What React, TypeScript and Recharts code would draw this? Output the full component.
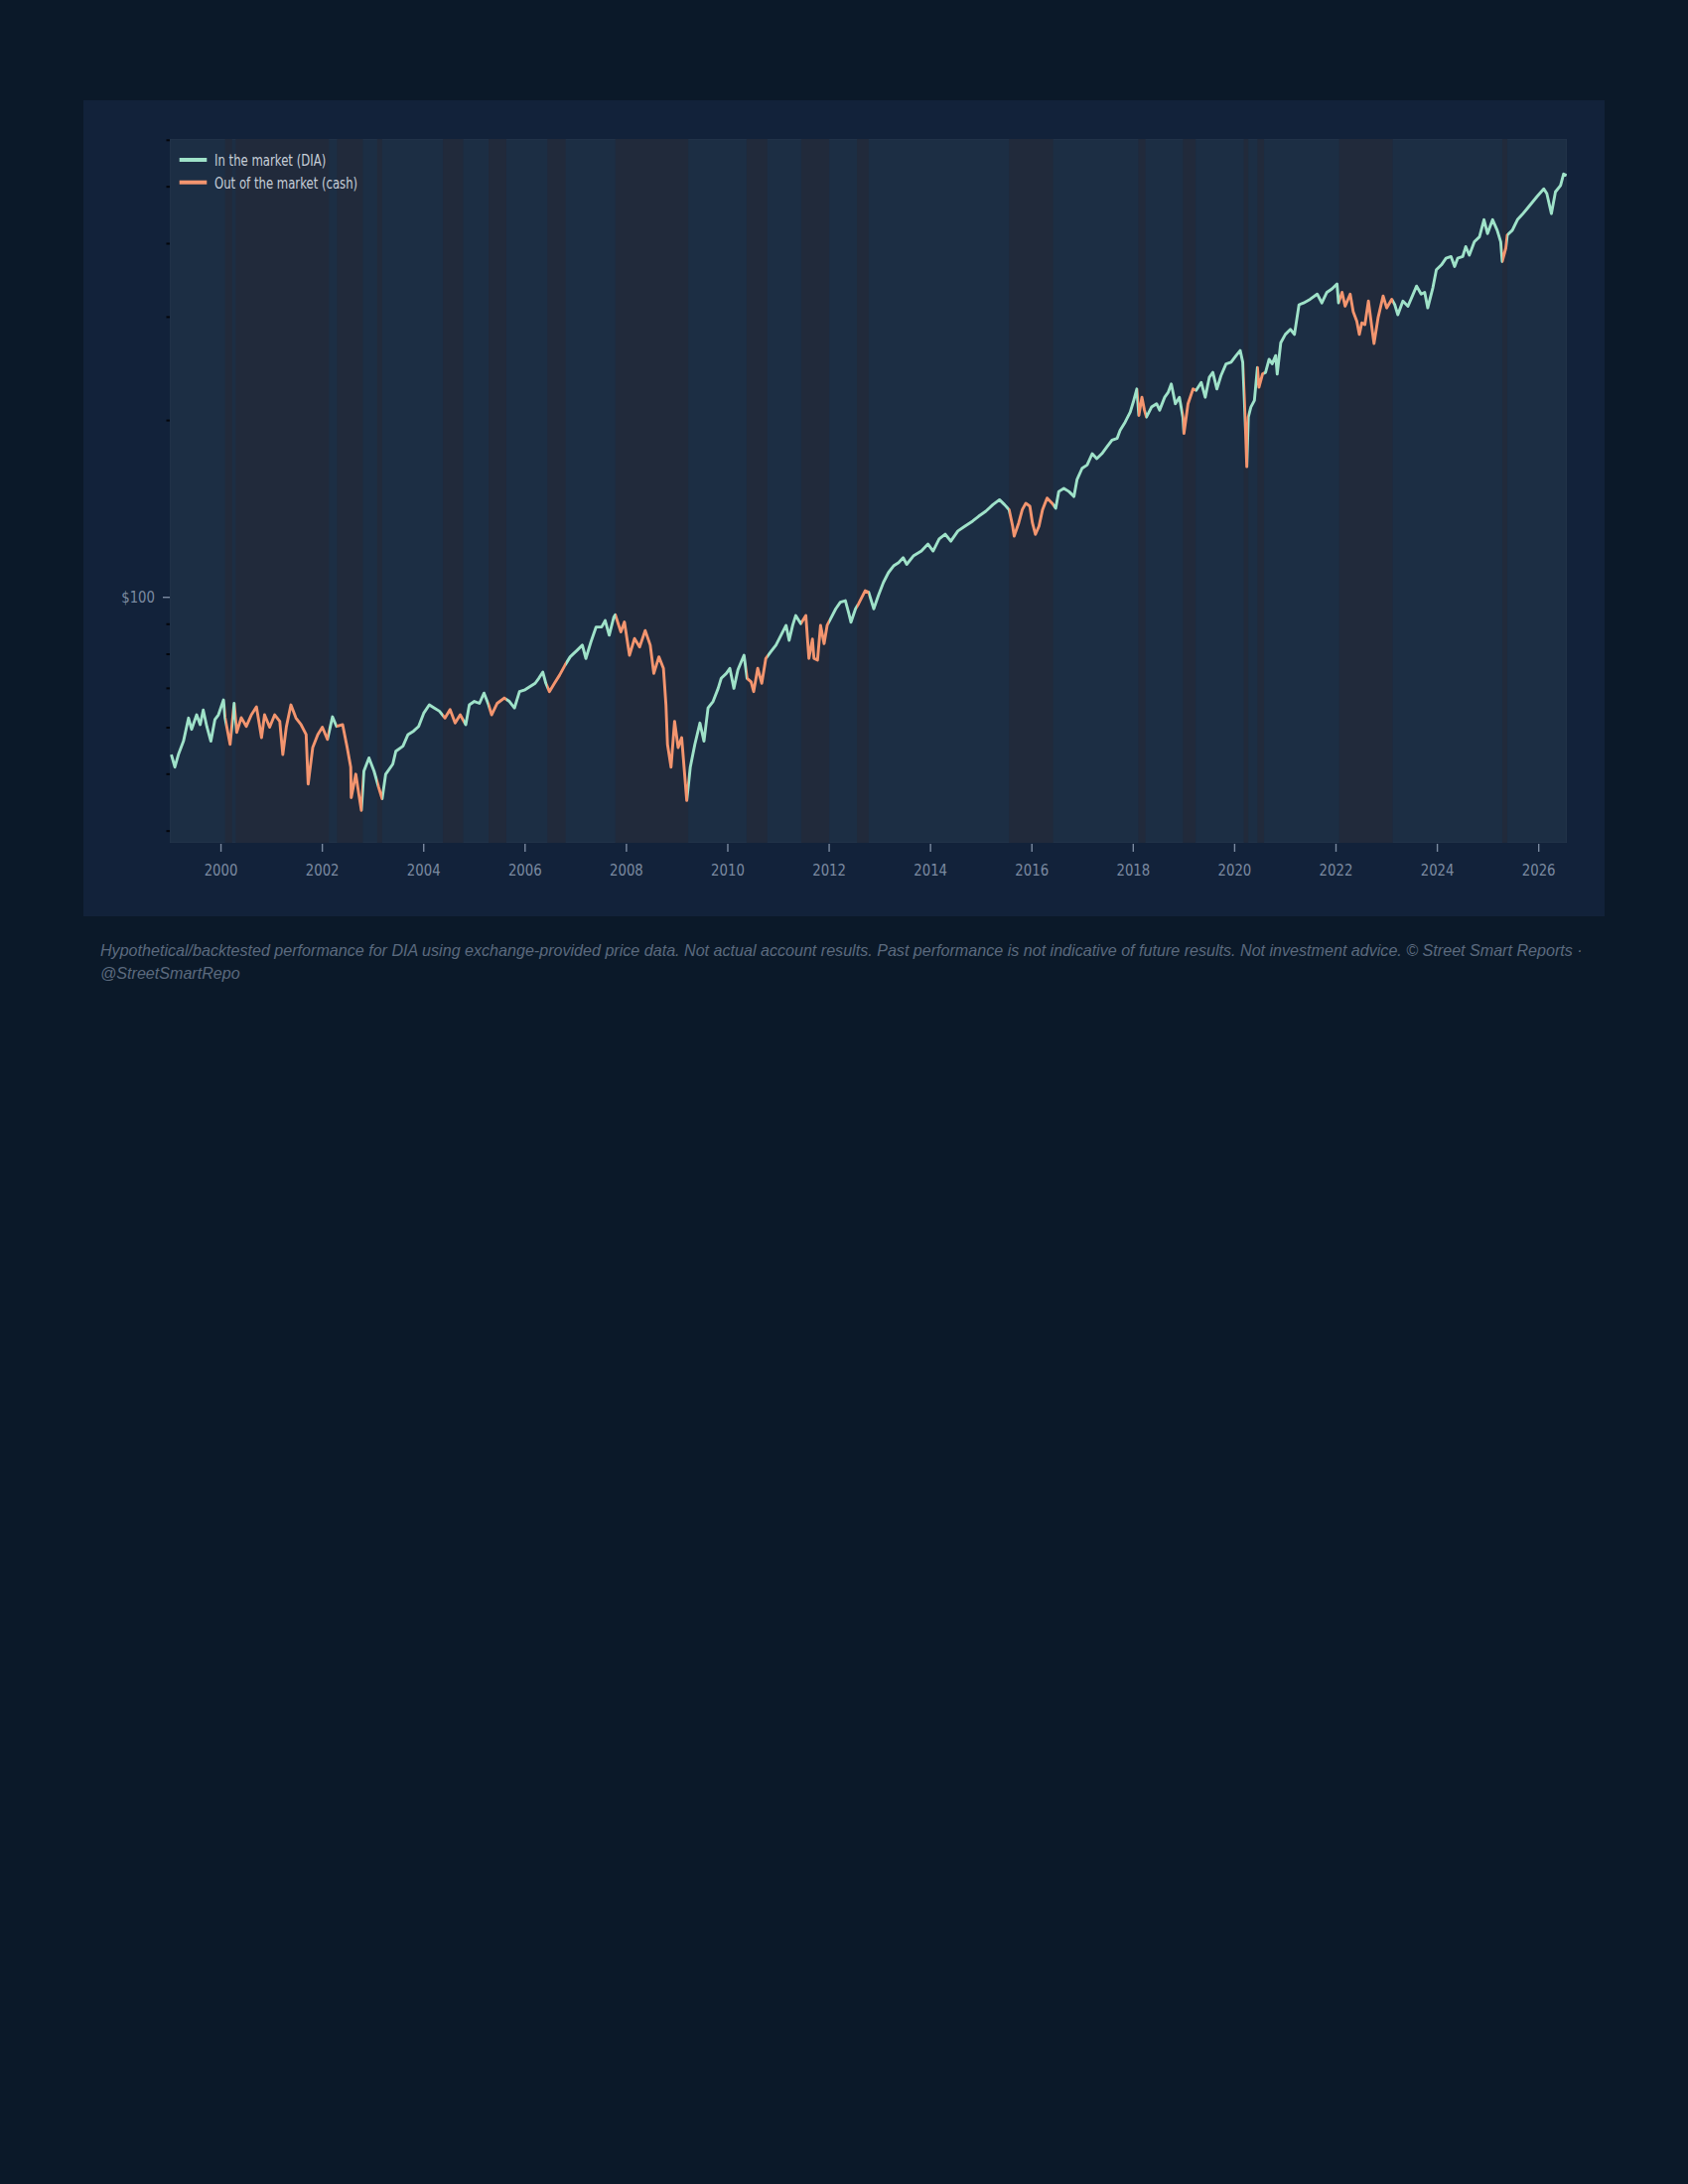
import { ComposedChart, Line, XAxis, YAxis, ReferenceArea } from "recharts";

// DIA backtest: portfolio value (decimal year -> $)
const dates = [
  1999.02, 1999.09, 1999.16, 1999.26, 1999.36, 1999.42, 1999.52, 1999.59, 1999.65, 1999.72,
  1999.8, 1999.88, 1999.95, 2000.05, 2000.08, 2000.18, 2000.26, 2000.31, 2000.4, 2000.5,
  2000.6, 2000.7, 2000.8, 2000.86, 2000.96, 2001.06, 2001.16, 2001.22, 2001.29, 2001.38,
  2001.48, 2001.58, 2001.68, 2001.72, 2001.81, 2001.91, 2002.0, 2002.1, 2002.2, 2002.28,
  2002.4, 2002.49, 2002.56, 2002.57, 2002.66, 2002.72, 2002.77, 2002.82, 2002.92, 2003.02,
  2003.11, 2003.18, 2003.25, 2003.39, 2003.45, 2003.59, 2003.69, 2003.8, 2003.9, 2004.0,
  2004.11, 2004.21, 2004.31, 2004.42, 2004.52, 2004.62, 2004.72, 2004.83, 2004.9, 2005.0,
  2005.1, 2005.19, 2005.28, 2005.34, 2005.45, 2005.59, 2005.69, 2005.79, 2005.89, 2006.0,
  2006.1, 2006.2, 2006.27, 2006.35, 2006.41, 2006.48, 2006.58, 2006.68, 2006.79, 2006.89,
  2007.03, 2007.13, 2007.2, 2007.3, 2007.4, 2007.51, 2007.58, 2007.66, 2007.75, 2007.78,
  2007.89, 2007.96, 2008.06, 2008.16, 2008.26, 2008.37, 2008.47, 2008.54, 2008.64, 2008.73,
  2008.78, 2008.81, 2008.88, 2008.95, 2009.02, 2009.09, 2009.19, 2009.26, 2009.35, 2009.45,
  2009.53, 2009.61, 2009.71, 2009.81, 2009.87, 2009.97, 2010.04, 2010.12, 2010.2, 2010.32,
  2010.38, 2010.46, 2010.51, 2010.59, 2010.67, 2010.75, 2010.85, 2010.95, 2011.05, 2011.15,
  2011.21, 2011.28, 2011.34, 2011.44, 2011.54, 2011.6, 2011.67, 2011.7, 2011.77, 2011.83,
  2011.9, 2011.96, 2012.03, 2012.13, 2012.22, 2012.32, 2012.39, 2012.43, 2012.52, 2012.58,
  2012.71, 2012.78, 2012.88, 2012.97, 2013.07, 2013.17, 2013.27, 2013.37, 2013.46, 2013.53,
  2013.66, 2013.82, 2013.95, 2014.05, 2014.17, 2014.29, 2014.4, 2014.54, 2014.68, 2014.83,
  2014.95, 2015.09, 2015.23, 2015.36, 2015.46, 2015.55, 2015.62, 2015.65, 2015.74, 2015.81,
  2015.88, 2015.96, 2016.01, 2016.07, 2016.14, 2016.21, 2016.3, 2016.4, 2016.47, 2016.53,
  2016.63, 2016.73, 2016.83, 2016.89, 2016.99, 2017.09, 2017.19, 2017.28, 2017.38, 2017.48,
  2017.58, 2017.68, 2017.74, 2017.84, 2017.94, 2018.0, 2018.07, 2018.11, 2018.17, 2018.22,
  2018.26, 2018.36, 2018.46, 2018.52, 2018.62, 2018.69, 2018.75, 2018.83, 2018.91, 2018.98,
  2019.0, 2019.08, 2019.18, 2019.24, 2019.34, 2019.42, 2019.5, 2019.57, 2019.65, 2019.73,
  2019.83, 2019.93, 2020.03, 2020.11, 2020.16, 2020.19, 2020.22, 2020.24, 2020.27, 2020.32,
  2020.39, 2020.45, 2020.48, 2020.55, 2020.61, 2020.68, 2020.74, 2020.81, 2020.84, 2020.91,
  2021.0, 2021.1, 2021.18, 2021.27, 2021.36, 2021.49, 2021.63, 2021.72, 2021.82, 2021.92,
  2022.02, 2022.05, 2022.12, 2022.18, 2022.28, 2022.34, 2022.41, 2022.46, 2022.51, 2022.57,
  2022.64, 2022.7, 2022.75, 2022.83, 2022.93, 2023.0, 2023.1, 2023.16, 2023.22, 2023.32,
  2023.42, 2023.49, 2023.59, 2023.68, 2023.75, 2023.81, 2023.91, 2023.98, 2024.08, 2024.17,
  2024.27, 2024.34, 2024.4, 2024.5, 2024.56, 2024.63, 2024.73, 2024.83, 2024.92, 2024.99,
  2025.09, 2025.18, 2025.25, 2025.28, 2025.35, 2025.38, 2025.48, 2025.58, 2025.67, 2025.77,
  2025.87, 2025.97, 2026.1, 2026.16, 2026.25, 2026.33, 2026.43, 2026.49, 2026.55,
];

const prices = [
  54.0, 51.4, 54.0, 56.9, 62.3, 59.6, 63.1, 60.7, 64.3, 60.3,
  56.9, 61.9, 63.1, 66.9, 62.4, 56.2, 66.0, 58.9, 62.4, 60.3,
  63.1, 65.1, 57.7, 63.1, 60.1, 63.1, 61.5, 54.0, 60.2, 65.6,
  62.3, 60.7, 58.4, 48.1, 55.5, 58.4, 60.1, 57.3, 62.6, 60.3,
  60.7, 55.5, 51.4, 45.6, 50.0, 46.2, 43.4, 50.6, 53.3, 50.6,
  47.5, 45.4, 50.0, 52.0, 54.7, 55.8, 58.4, 59.2, 60.3, 63.5,
  65.6, 64.8, 64.0, 62.3, 64.4, 61.1, 63.1, 60.7, 65.6, 66.5,
  66.0, 68.7, 65.6, 63.1, 66.0, 67.4, 66.5, 64.8, 69.1, 69.6,
  70.5, 71.4, 72.8, 74.6, 71.4, 69.1, 71.4, 73.7, 76.7, 79.2,
  81.3, 82.9, 78.7, 84.0, 89.0, 89.0, 91.3, 86.2, 92.5, 93.4,
  87.3, 90.8, 79.7, 85.1, 82.3, 87.8, 82.9, 74.2, 79.2, 75.7,
  65.6, 56.2, 51.4, 61.5, 55.5, 57.7, 45.1, 51.4, 56.2, 61.1,
  56.9, 64.8, 66.5, 70.0, 72.8, 74.2, 75.7, 70.0, 75.3, 79.7,
  72.8, 71.8, 69.1, 75.7, 71.4, 78.7, 80.8, 82.9, 86.2, 89.6,
  84.5, 89.6, 93.1, 90.2, 93.1, 78.7, 84.9, 78.7, 78.2, 89.6,
  83.4, 89.6, 92.0, 95.6, 98.1, 98.7, 93.7, 90.7, 95.6, 97.5,
  102.6, 102.0, 95.6, 100.7, 106.0, 110.2, 113.1, 114.6, 116.8, 113.8,
  117.6, 119.9, 123.2, 119.9, 125.7, 128.1, 124.6, 129.7, 132.2, 134.8,
  137.4, 140.1, 143.8, 146.6, 143.8, 141.0, 132.2, 127.1, 133.9, 141.0,
  144.6, 142.9, 133.9, 128.0, 132.2, 141.0, 147.6, 144.6, 141.8, 151.4,
  153.3, 151.4, 148.5, 158.6, 165.8, 168.0, 175.6, 172.2, 175.6, 180.4,
  185.2, 186.4, 192.5, 198.8, 206.7, 215.0, 226.3, 204.0, 219.1, 208.3,
  202.7, 210.8, 213.6, 208.3, 219.1, 223.5, 230.8, 213.6, 219.1, 202.7,
  190.1, 213.6, 226.3, 225.1, 232.2, 219.1, 236.8, 241.5, 226.3, 238.4,
  249.7, 251.3, 258.0, 263.1, 251.3, 219.1, 187.6, 166.9, 202.7, 210.8,
  216.4, 246.2, 227.8, 239.9, 241.5, 254.3, 249.7, 258.0, 239.9, 271.3,
  280.3, 285.9, 280.3, 314.8, 317.1, 321.7, 328.3, 317.1, 330.6, 335.0,
  341.7, 317.1, 330.6, 313.1, 328.3, 306.3, 295.3, 280.3, 293.3, 291.3,
  319.4, 291.3, 270.4, 299.1, 325.8, 311.0, 321.7, 314.8, 302.7, 319.4,
  313.1, 323.3, 338.8, 328.3, 330.6, 311.0, 336.2, 361.0, 368.1, 377.8,
  380.3, 365.8, 377.8, 380.3, 395.4, 382.4, 403.0, 410.8, 439.4, 416.1,
  439.4, 421.8, 403.0, 373.0, 392.8, 413.9, 421.8, 439.4, 448.0, 458.8,
  470.0, 481.6, 496.0, 486.8, 450.0, 490.1, 502.6, 525.6, 522.6,
];

// periods spent out of the market (in cash), start/end as decimal years
const cashPeriods: [number, number][] = [
  [2000.08, 2000.22], [2000.29, 2002.13], [2002.29, 2002.8], [2003.08, 2003.18],
  [2004.38, 2004.78], [2005.28, 2005.63], [2006.44, 2006.8], [2007.78, 2009.22],
  [2010.37, 2010.78], [2011.45, 2012.0], [2012.55, 2012.78], [2015.55, 2016.42],
  [2018.1, 2018.24], [2018.98, 2019.23], [2020.18, 2020.27], [2020.45, 2020.58],
  [2022.06, 2023.12], [2025.28, 2025.38],
];

const yearTicks = [2000, 2002, 2004, 2006, 2008, 2010, 2012, 2014, 2016, 2018, 2020, 2022, 2024, 2026];
const priceTicks = [40, 50, 60, 70, 80, 90, 100, 200, 300, 400, 500, 600];
const priceLabels: Record<number, string> = { 100: "$100" };
const legendLabels = ["In the market (DIA)", "Out of the market (cash)"];
const footnote =
  "Hypothetical/backtested performance for DIA using exchange-provided price data. Not actual account results. Past performance is not indicative of future results. Not investment advice. © Street Smart Reports · @StreetSmartRepo";

const X_DOMAIN: [number, number] = [1998.99, 2026.555];
const Y_DOMAIN: [number, number] = [38.2, 603];

const PAGE_BG = "#0b1929";
const PANEL_BG = "#12223a";
const PLOT_BG = "#1c2e44";
const CASH_BG = "#212a3b";
const IN_COLOR = "#9fe2c9";
const OUT_COLOR = "#f3956f";
const TICK_COLOR = "#7b8aa0";
const LEGEND_TEXT = "#c6ced8";
const FOOT_COLOR = "#5b6a7e";
const FONT = "'DejaVu Sans', sans-serif";

const PANEL = { left: 84, top: 101, width: 1532, height: 822 };
const PLOT_LEFT = 87;
const PLOT_BOTTOM = 748;

const rows = dates.slice(0, prices.length).map((t, i) => ({ t, v: prices[i] }));

// hard colour stops along the line, switching at each cash period
const tMin = rows[0].t;
const tMax = rows[rows.length - 1].t;
const frac = (t: number) => Math.min(1, Math.max(0, (t - tMin) / (tMax - tMin)));
const stops: { offset: number; color: string }[] = [{ offset: 0, color: IN_COLOR }];
cashPeriods.forEach(([a, b]) => {
  stops.push({ offset: frac(a), color: IN_COLOR });
  stops.push({ offset: frac(a), color: OUT_COLOR });
  stops.push({ offset: frac(b), color: OUT_COLOR });
  stops.push({ offset: frac(b), color: IN_COLOR });
});
stops.push({ offset: 1, color: IN_COLOR });

function YearTick(props: any) {
  const { x, payload } = props;
  return (
    <g>
      <line x1={x} x2={x} y1={PLOT_BOTTOM + 1} y2={PLOT_BOTTOM + 9} stroke={TICK_COLOR} strokeWidth={1.4} />
      <text
        transform={`translate(${x},${PLOT_BOTTOM + 33}) scale(0.83,1)`}
        textAnchor="middle"
        fontSize={16}
        fontFamily={FONT}
        fill={TICK_COLOR}
      >
        {payload.value}
      </text>
    </g>
  );
}

function PriceTick(props: any) {
  const { y, payload } = props;
  const label = priceLabels[payload.value];
  if (!label) {
    return <line x1={PLOT_LEFT - 3.5} x2={PLOT_LEFT} y1={y} y2={y} stroke="#04070c" strokeWidth={2} />;
  }
  return (
    <g>
      <line x1={PLOT_LEFT - 7} x2={PLOT_LEFT} y1={y} y2={y} stroke={TICK_COLOR} strokeWidth={1.4} />
      <text
        transform={`translate(${PLOT_LEFT - 15},${y + 5.5}) scale(0.83,1)`}
        textAnchor="end"
        fontSize={16}
        fontFamily={FONT}
        fill={TICK_COLOR}
      >
        {label}
      </text>
    </g>
  );
}

export default function App() {
  return (
    <div style={{ position: "absolute", left: 0, top: 0, width: 1700, height: 2200, background: PAGE_BG }}>
      <div
        style={{
          position: "absolute",
          left: PANEL.left,
          top: PANEL.top,
          width: PANEL.width,
          height: PANEL.height,
          background: PANEL_BG,
        }}
      >
        <ComposedChart
          width={PANEL.width}
          height={PANEL.height}
          data={rows}
          margin={{ top: 39, right: 38, bottom: 34, left: 27 }}
        >
          <defs>
            <linearGradient id="regimeStroke" x1="0" y1="0" x2="1" y2="0">
              {stops.map((s, i) => (
                <stop key={i} offset={s.offset} stopColor={s.color} />
              ))}
            </linearGradient>
          </defs>
          <XAxis
            type="number"
            dataKey="t"
            domain={X_DOMAIN}
            ticks={yearTicks}
            interval={0}
            allowDataOverflow
            axisLine={false}
            tickLine={false}
            height={40}
            tick={<YearTick />}
          />
          <YAxis
            type="number"
            scale="log"
            domain={Y_DOMAIN}
            ticks={priceTicks}
            interval={0}
            allowDataOverflow
            axisLine={false}
            tickLine={false}
            width={60}
            tick={<PriceTick />}
          />
          <ReferenceArea
            x1={X_DOMAIN[0]}
            x2={X_DOMAIN[1]}
            fill={PLOT_BG}
            fillOpacity={1}
            stroke="#26364c"
            strokeWidth={1}
            ifOverflow="hidden"
          />
          {cashPeriods.map(([a, b], i) => (
            <ReferenceArea key={i} x1={a} x2={b} fill={CASH_BG} fillOpacity={1} stroke="none" ifOverflow="hidden" />
          ))}
          <Line
            type="linear"
            dataKey="v"
            stroke="url(#regimeStroke)"
            strokeWidth={2.9}
            strokeLinejoin="round"
            dot={false}
            activeDot={false}
            isAnimationActive={false}
          />
        </ComposedChart>
        <svg
          width={PANEL.width}
          height={PANEL.height}
          style={{ position: "absolute", left: 0, top: 0, pointerEvents: "none" }}
        >
          {legendLabels.map((label, i) => (
            <g key={label}>
              <rect x={96.7} y={58 + i * 22.7} width={27.6} height={4} fill={i === 0 ? IN_COLOR : OUT_COLOR} />
              <text
                transform={`translate(132,${66.3 + i * 22.7}) scale(0.78,1)`}
                fontSize={15}
                fontFamily={FONT}
                fill={LEGEND_TEXT}
              >
                {label}
              </text>
            </g>
          ))}
        </svg>
      </div>
      <div
        style={{
          position: "absolute",
          left: 101,
          top: 945.7,
          width: 1500,
          fontFamily: "'Liberation Sans', Arial, sans-serif",
          fontStyle: "italic",
          fontSize: 16.1,
          lineHeight: "23px",
          color: FOOT_COLOR,
        }}
      >
        {footnote}
      </div>
    </div>
  );
}
